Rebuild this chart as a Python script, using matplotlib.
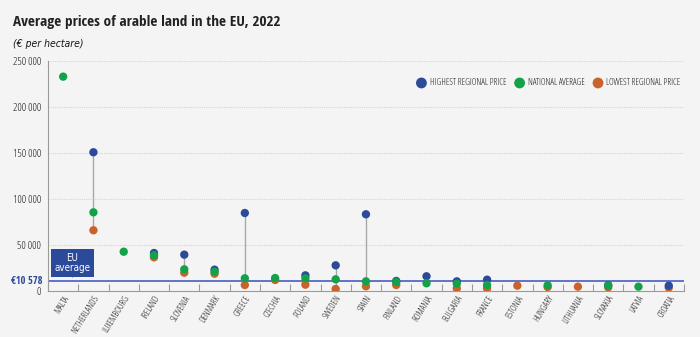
import numpy as np
import matplotlib
matplotlib.use('Agg')
import matplotlib.pyplot as plt
from matplotlib.font_manager import FontProperties

nan = np.nan

countries = ['MALTA', 'NETHERLANDS', 'LUXEMBOURG', 'IRELAND', 'SLOVENIA', 'DENMARK',
             'GREECE', 'CZECHIA', 'POLAND', 'SWEDEN', 'SPAIN', 'FINLAND', 'ROMANIA',
             'BULGARIA', 'FRANCE', 'ESTONIA', 'HUNGARY', 'LITHUANIA', 'SLOVAKIA',
             'LATVIA', 'CROATIA']

# EUR per hectare
highest = [nan, 150800, nan, 41300, 39500, 23200, 84800, nan, 17000, 27900, 83400,
           10900, 16000, 10500, 12300, nan, nan, nan, 6400, nan, 5800]
national = [233000, 85500, 42700, 38800, 23600, 21000, 13800, 14100, 13800, 12700,
            10500, 9800, 8400, 8000, 6500, nan, 6200, nan, 6000, 4700, nan]
lowest = [nan, 66000, nan, 36600, 19900, 18800, 6500, 12000, 6900, 2200, 5100,
          6500, nan, 2900, 2900, 5800, 4300, 4700, 4000, nan, 3600]

eu_average = 10578

BLUE = '#2C4A9A'
GREEN = '#12A34A'
ORANGE = '#C9622B'
BG = '#F4F4F4'
TXT = '#151515'

plt.rcParams['font.family'] = ['Open Sans', 'DejaVu Sans']
plt.rcParams['font.stretch'] = 'condensed'
plt.rcParams['font.weight'] = 'light'

bold = FontProperties(family='Open Sans Condensed', weight='bold', stretch='condensed')
narrow = FontProperties(family='DejaVu Sans', weight='normal', stretch='condensed')
light = FontProperties(family='Open Sans', weight='light', stretch='condensed')

fig = plt.figure(figsize=(7, 3.37), dpi=100, facecolor=BG)
ax = fig.add_axes([0.0686, 0.1365, 0.9084, 0.6825], facecolor=BG)

x = np.arange(len(countries))
hi = np.array(highest, dtype=float)
na = np.array(national, dtype=float)
lo = np.array(lowest, dtype=float)

# grey stem from lowest to highest value for each country
stack = np.vstack([hi, na, lo])
top = np.nanmax(stack, axis=0)
bot = np.nanmin(stack, axis=0)
ax.vlines(x, bot, top, color='#A8A8A8', lw=1.0, zorder=2)

ax.axhline(eu_average, color='#6272C8', lw=1.4, zorder=1)

ax.scatter(x, hi, s=36, color=BLUE, zorder=4, label='HIGHEST REGIONAL PRICE', edgecolors='none')
ax.scatter(x, na, s=36, color=GREEN, zorder=5, label='NATIONAL AVERAGE', edgecolors='none')
ax.scatter(x, lo, s=36, color=ORANGE, zorder=3, label='LOWEST REGIONAL PRICE', edgecolors='none')

ax.set_xlim(-0.5, len(countries) - 0.5)
ax.set_ylim(0, 250000)

yticks = [0, 50000, 100000, 150000, 200000, 250000]
ax.set_yticks(yticks)
ax.set_yticklabels(['0', '50 000', '100 000', '150 000', '200 000', '250 000'],
                   fontproperties=light, fontsize=7.8, color=TXT)
for yv in yticks[1:]:
    ax.axhline(yv, color='#D6D6D6', lw=0.8, ls=(0, (1, 1)), zorder=0)

ax.set_xticks(x)
ax.set_xticklabels(countries, rotation=58, ha='right', rotation_mode='anchor',
                   fontproperties=light, fontsize=6.5, color=TXT)
ax.tick_params(axis='x', length=0, pad=2)
ax.tick_params(axis='y', length=0, pad=5)
# category separators on the x axis
ax.set_xticks(np.arange(len(countries) + 1) - 0.5, minor=True)
ax.tick_params(axis='x', which='minor', direction='in', length=5, color='#9A9A9A', width=0.8)

for side in ['top', 'right']:
    ax.spines[side].set_visible(False)
ax.spines['left'].set_color('#9A9A9A')
ax.spines['bottom'].set_color('#9A9A9A')

# EU average label on the axis
ax.text(-0.009, eu_average, '€10 578', transform=ax.get_yaxis_transform(),
        ha='right', va='center', fontsize=7.5, color=BLUE, fontproperties=bold)

# EU average callout box
ax.text(0.31, 30400, 'EU\naverage', ha='center', va='center', fontproperties=narrow,
        fontsize=7, color='white', linespacing=1.05, zorder=6,
        bbox=dict(boxstyle='square,pad=0.35', fc=BLUE, ec='none'))
ax.scatter([0.31], [17600], marker='v', s=20, color=BLUE, edgecolors='none', zorder=6)

leg_font = FontProperties(family='Open Sans', stretch='condensed', weight='light', size=6.5)
leg = ax.legend(loc='center right', bbox_to_anchor=(1.003, 0.905), ncol=3, frameon=False,
                prop=leg_font, handlelength=1.0, handletextpad=0.4, columnspacing=1.0,
                markerscale=1.3, labelcolor=TXT, borderaxespad=0.2)

fig.text(0.019, 0.935, 'Average prices of arable land in the EU, 2022',
         color='#222222', va='center', fontproperties=bold, fontsize=11)
fig.text(0.019, 0.87, '(€ per hectare)', fontproperties=narrow, fontsize=7.5,
         style='italic', color=TXT, va='center')

fig.savefig('out.png', dpi=100, facecolor=BG)
